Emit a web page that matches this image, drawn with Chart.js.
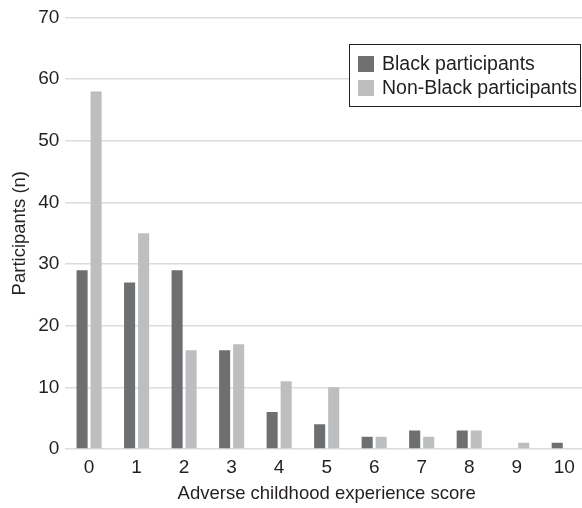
<!DOCTYPE html>
<html>
<head>
<meta charset="utf-8">
<script src="https://cdn.jsdelivr.net/npm/chart.js@4.4.1/dist/chart.umd.min.js"></script>
<style>
  html, body { margin: 0; padding: 0; background: #fff; overflow: hidden; }
  #wrap { position: relative; width: 590px; height: 508px; }
</style>
</head>
<body>
<div id="wrap"><canvas id="c" width="590" height="508"></canvas></div>
<script>
const categories = ['0','1','2','3','4','5','6','7','8','9','10'];
const blackParticipants = [29, 27, 29, 16, 6, 4, 2, 3, 3, 0, 1];
const nonBlackParticipants = [58, 35, 16, 17, 11, 10, 2, 2, 3, 1, 0];
const seriesNames = ['Black participants', 'Non-Black participants'];
const yTicks = [0, 10, 20, 30, 40, 50, 60, 70];

const colors = ['#6e6f71', '#bdbec0'];
const textColor = '#231f20';
const fontFamily = '"Liberation Sans", Arial, Helvetica, sans-serif';

const boxLegend = {
  id: 'boxLegend',
  afterDraw(chart) {
    const ctx = chart.ctx;
    const x = 349.5, y = 44.5, w = 231, h = 62;
    ctx.save();
    ctx.fillStyle = '#ffffff';
    ctx.fillRect(x, y, w, h);
    ctx.strokeStyle = '#231f20';
    ctx.lineWidth = 1;
    ctx.strokeRect(x, y, w, h);
    ctx.font = '19.5px ' + fontFamily;
    ctx.textBaseline = 'middle';
    ctx.textAlign = 'left';
    seriesNames.forEach((name, i) => {
      const cy = 64 + i * 24;
      ctx.fillStyle = colors[i];
      ctx.fillRect(358, cy - 8, 16, 16);
      ctx.fillStyle = textColor;
      ctx.fillText(name, 382, cy + 1);
    });
    ctx.restore();
  }
};

new Chart(document.getElementById('c'), {
  type: 'bar',
  data: {
    labels: categories,
    datasets: [
      { label: seriesNames[0], data: blackParticipants, backgroundColor: colors[0], borderWidth: 0 },
      { label: seriesNames[1], data: nonBlackParticipants, backgroundColor: colors[1], borderWidth: 0 }
    ]
  },
  options: {
    responsive: false,
    animation: false,
    devicePixelRatio: 1,
    layout: { padding: { top: 5, right: 2, left: 9, bottom: 3 } },
    datasets: { bar: { categoryPercentage: 0.59, barPercentage: 0.79 } },
    plugins: {
      legend: { display: false },
      tooltip: { enabled: false }
    },
    scales: {
      x: {
        offset: true,
        grid: { display: false, drawTicks: false },
        border: { display: false },
        ticks: { color: textColor, font: { family: fontFamily, size: 19 }, padding: 7, maxRotation: 0 },
        title: { display: true, text: 'Adverse childhood experience score', color: textColor, font: { family: fontFamily, size: 18.5 }, padding: { top: -3, bottom: 0 } }
      },
      y: {
        min: 0, max: 70,
        afterBuildTicks(axis) { axis.ticks = yTicks.map(v => ({ value: v })); },
        grid: { color: '#dcdcdc', lineWidth: 1.5, tickLength: 0, drawTicks: false },
        border: { display: false },
        ticks: { color: textColor, font: { family: fontFamily, size: 19 }, padding: 6 },
        title: { display: true, text: 'Participants (n)', color: textColor, font: { family: fontFamily, size: 18.5 }, padding: { top: 0, bottom: 1 } }
      }
    }
  },
  plugins: [boxLegend]
});
</script>
</body>
</html>
